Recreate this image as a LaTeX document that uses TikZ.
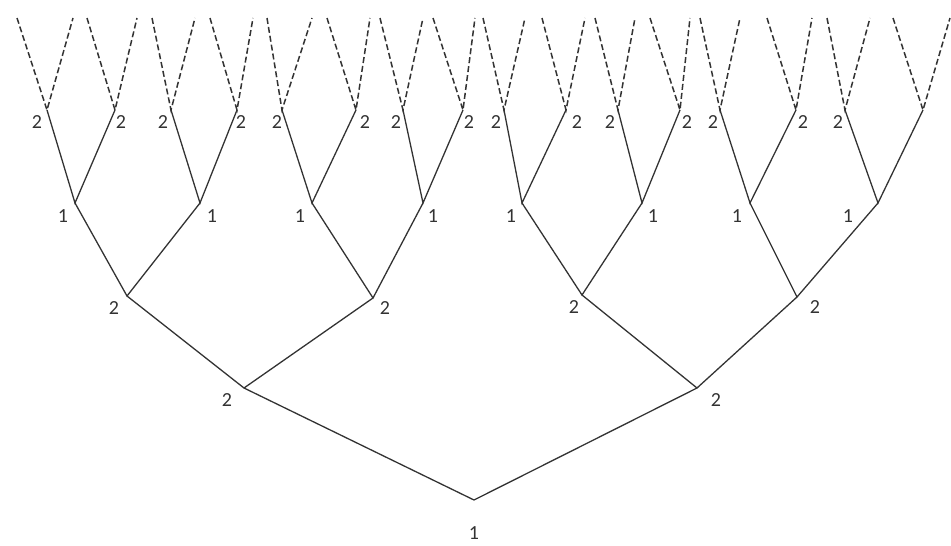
\documentclass[tikz,border=0pt]{standalone}
\usepackage{fontspec}
\setmainfont{Carlito}
\begin{document}
\begin{tikzpicture}[x=1pt,y=-1pt,line width=1.3pt,color=black!80,
  lbl/.style={font=\fontsize{20}{20}\selectfont,inner sep=0pt},
  twig/.style={line width=1.5pt,dash pattern=on 6pt off 3pt}]
\useasboundingbox (0,0) rectangle (951,546);
\coordinate (r) at (474,500);
\coordinate (a) at (244,388);
\coordinate (b) at (697,388);
\coordinate (aa) at (127,296);
\coordinate (ab) at (373,298);
\coordinate (ba) at (582,295);
\coordinate (bb) at (797,297);
\foreach \n/\x in {c1/75,c2/200,c3/312,c4/423,c5/522,c6/642,c7/750,c8/878}
  \coordinate (\n) at (\x,203);
\foreach \n/\x in {d1/47,d2/115,d3/171,d4/237,d5/282,d6/356,d7/403,d8/463,
  d9/504,d10/566,d11/618,d12/680,d13/720,d14/796,d15/845,d16/923}
  \coordinate (\n) at (\x,110);
\draw(a)--(r)--(b);
\draw(aa)--(a)--(ab);
\draw(ba)--(b)--(bb);
\draw(c1)--(aa)--(c2);
\draw(c3)--(ab)--(c4);
\draw(c5)--(ba)--(c6);
\draw(c7)--(bb)--(c8);
\foreach \c/\p/\q in {c1/d1/d2,c2/d3/d4,c3/d5/d6,c4/d7/d8,c5/d9/d10,c6/d11/d12,c7/d13/d14,c8/d15/d16}
  \draw(\p)--(\c)--(\q);
\foreach \n/\l/\r in {d1/17/73,d2/87/137,d3/152/195,d4/210/253,d5/267/312,d6/327/370,
  d7/380/423,d8/433/475,d9/483/525,d10/542/585,d11/595/635,d12/650/690,
  d13/700/740,d14/767/812,d15/827/870,d16/893/950}{
  \coordinate (\n-l) at (\l,18);
  \coordinate (\n-r) at (\r,18);
  \draw[twig](\n-l)--(\n)--(\n-r);
}
\node[lbl](lr) at (474,533){1};
\node[lbl](la) at (227,400){2};
\node[lbl](lb) at (716,400){2};
\node[lbl](laa) at (114,308){2};
\node[lbl](lab) at (385,308){2};
\node[lbl](lba) at (574,307){2};
\node[lbl](lbb) at (815,307){2};
\foreach \n/\x in {c1/63,c2/212,c3/300,c4/433,c5/511,c6/653,c7/737,c8/848}
  \node[lbl](l\n) at (\x,216){1};
\foreach \n/\x in {d1/37,d2/121,d3/163,d4/241,d5/277,d6/365,d7/396,d8/469,
  d9/496,d10/577,d11/610,d12/687,d13/713,d14/803,d15/838}
  \node[lbl](l\n) at (\x,122){2};
\end{tikzpicture}
\end{document}
